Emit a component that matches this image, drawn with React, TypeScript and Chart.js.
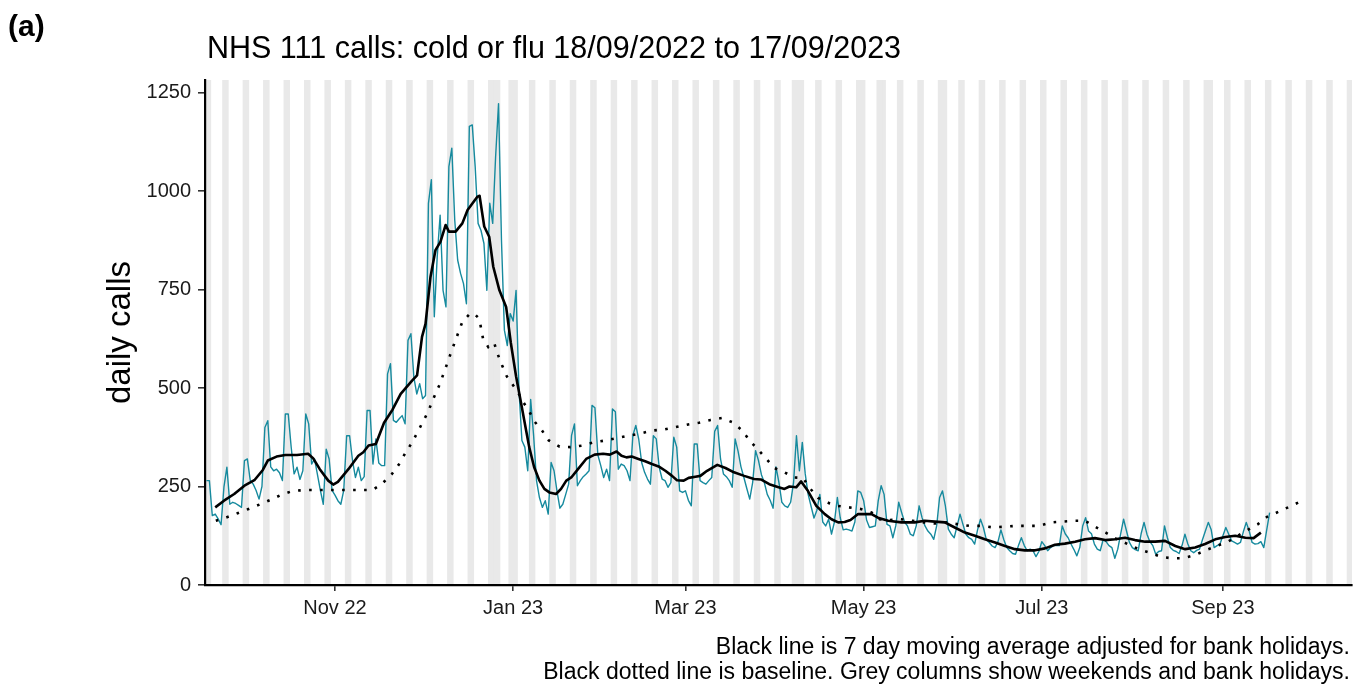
import React, { useEffect, useRef } from 'react';
import { Chart, registerables } from 'chart.js';

Chart.register(...registerables);

const FONT = "'Liberation Sans', Arial, Helvetica, sans-serif";

// Day 0 of every series is 18/09/2022
const START_DATE = '2022-09-18';
const DAY_MS = 86400000;
const dayOf = (s: string) =>
  Math.round((Date.parse(s + 'T00:00:00Z') - Date.parse(START_DATE + 'T00:00:00Z')) / DAY_MS);

const titleText = 'NHS 111 calls: cold or flu 18/09/2022 to 17/09/2023';
const panelLabel = '(a)';
const yAxisTitle = 'daily calls';
const captionLines = [
  'Black line is 7 day moving average adjusted for bank holidays.',
  'Black dotted line is baseline. Grey columns show weekends and bank holidays.',
];

const tickDates = ['2022-11-01', '2023-01-01', '2023-03-01', '2023-05-01', '2023-07-01', '2023-09-01'];
const tickLabels = ['Nov 22', 'Jan 23', 'Mar 23', 'May 23', 'Jul 23', 'Sep 23'];
const yTicks = [0, 250, 500, 750, 1000, 1250];

const bankHolidays = [
  '2022-09-19', '2022-12-26', '2022-12-27', '2023-01-02', '2023-04-07',
  '2023-04-10', '2023-05-01', '2023-05-08', '2023-05-29', '2023-08-28',
];
const greyColumnsEnd = '2023-10-15';

// daily calls, 18/09/2022 .. 17/09/2023
const dailyCalls = [
  265,
  265, 176, 180, 168, 153, 250, 299,
  205, 210, 207, 202, 197, 316, 320,
  265, 256, 240, 218, 250, 400, 417,
  300, 290, 294, 285, 265, 434, 434,
  350, 282, 299, 268, 290, 434, 409,
  307, 320, 280, 240, 205, 345, 320,
  240, 228, 214, 205, 240, 379, 379,
  316, 273, 299, 265, 275, 443, 443,
  307, 371, 310, 303, 303, 536, 562,
  418, 413, 422, 430, 409, 621, 638,
  528, 485, 511, 473, 481, 969, 1029,
  681, 833, 939, 748, 706, 1062, 1109,
  927, 825, 791, 765, 714, 1164, 1168,
  1062, 918, 900, 867, 748, 969, 918,
  1088, 1222, 876, 647, 608, 689, 670,
  748, 494, 367, 350, 290, 471, 380,
  265, 222, 197, 214, 180, 311, 290,
  239, 195, 205, 230, 256, 380, 409,
  252, 265, 275, 282, 290, 456, 450,
  330, 303, 273, 294, 265, 447, 440,
  294, 307, 303, 290, 265, 380, 405,
  370, 311, 286, 269, 256, 379, 371,
  299, 269, 265, 248, 260, 375, 350,
  239, 235, 239, 215, 201, 358, 358,
  265, 260, 256, 265, 273, 390, 405,
  320, 282, 275, 265, 248, 371, 340,
  300, 273, 245, 218, 260, 341, 316,
  280, 260, 230, 215, 195, 300, 260,
  210, 201, 197, 210, 260, 379, 290,
  362, 282, 230, 200, 170, 190, 230,
  160, 150, 167, 129, 160, 222, 170,
  140, 142, 140, 137, 160, 239, 235,
  214, 165, 146, 148, 150, 214, 252,
  230, 154, 150, 120, 150, 210, 184,
  160, 150, 129, 125, 150, 201, 171,
  150, 137, 129, 116, 150, 222, 239,
  200, 142, 129, 120, 150, 180, 154,
  129, 120, 116, 104, 140, 167, 146,
  115, 108, 99, 95, 110, 140, 115,
  95, 87, 80, 78, 100, 120, 100,
  87, 91, 87, 72, 85, 110, 100,
  87, 95, 100, 100, 100, 150, 130,
  120, 104, 90, 74, 95, 150, 171,
  137, 130, 104, 91, 87, 115, 110,
  100, 95, 68, 91, 130, 167, 137,
  108, 95, 90, 87, 130, 159, 129,
  110, 100, 78, 85, 87, 150, 120,
  95, 88, 85, 80, 100, 129, 104,
  87, 82, 88, 91, 115, 137, 159,
  140, 95, 100, 104, 125, 146, 129,
  112, 108, 104, 108, 135, 159, 137,
  108, 104, 105, 110, 95, 140, 184,
];

// 7 day moving average (day offset, value)
const avgDays = [
  3, 6, 9.5, 13, 16.4, 19.3, 21, 24, 27, 31, 34.8, 36.5, 38.8, 41.7, 43.4, 45, 48.6, 52, 53.7, 55.5,
  58, 60.8, 63.7, 66.5, 70.4, 72.1, 73.8, 75, 76.7, 78.4, 80.1, 81.9, 83, 85.3, 87.6, 89.4, 91.1, 92.8, 93.5, 95.1,
  96.8, 98.2, 100.3, 102.6, 104.2, 106, 107.5, 109, 110.5, 112.2, 114, 115.7, 117.4, 119.7, 121.4, 123.2, 124.9, 127.2, 130, 132.9,
  135.8, 138.1, 140.4, 142.1, 143.8, 145.6, 147.9, 150.2, 152.5, 154.8, 157.1, 159.4, 161.1, 163.4, 165.1, 167.4, 169.1, 171.4, 174.9, 177.7,
  180.6, 184.1, 187.5, 189.8, 192.7, 195.6, 197.9, 199.6, 201.9, 203.6, 205.9, 208.8, 211.7, 214, 216.3, 218.5, 220.5, 223.1, 227.7, 229.9,
  233.4, 237.9, 242.5, 245.9, 249.4, 252.8, 256.2, 259.7, 263.1, 266.5, 270, 273.4, 276.8, 280.2, 283.7, 287.1, 290.5, 293.9, 297.4, 300.8,
  304.2, 307.7, 311.1, 314.5, 317.9, 321.4, 324.8, 328.2, 331.7, 335.1, 338.5, 341.9, 345.4, 348.8, 352.2, 355.7, 358.5, 361,
];
const avgValues = [
  197, 214, 231, 252, 266, 292, 316, 326, 330, 330, 333, 322, 294, 265, 255, 262, 294, 328, 337, 354,
  358, 412, 445, 485, 519, 532, 630, 663, 782, 850, 871, 914, 897, 897, 918, 952, 969, 986, 988, 910,
  884, 808, 748, 706, 615, 530, 470, 410, 350, 299, 265, 244, 235, 231, 244, 265, 273, 294, 320, 331,
  333, 331, 339, 328, 324, 326, 320, 314, 307, 301, 290, 277, 266, 265, 272, 275, 277, 290, 305, 297,
  286, 277, 269, 268, 256, 249, 244, 250, 248, 263, 239, 201, 180, 167, 159, 160, 165, 180, 180, 171,
  163, 159, 159, 163, 161, 159, 146, 133, 125, 116, 108, 99, 91, 88, 88, 93, 102, 105, 110, 116,
  119, 114, 116, 120, 114, 110, 110, 112, 99, 91, 95, 104, 116, 122, 125, 120, 119, 133,
];

// baseline (day offset, value)
const baselineDays = [
  3.2, 6.6, 10.6, 14.4, 18.1, 21.9, 25.6, 29.6, 33.6, 45, 56.8, 60, 63.5, 65.8, 68.1, 70.4, 72.4, 73.8, 75.9, 77.5,
  79.6, 81.6, 83, 84.7, 86.2, 87.6, 90.1, 91.5, 93.4, 94.7, 96.5, 98.5, 99.5, 101.2, 102.8, 104.6, 106.6, 108.3, 110.5, 112.2,
  114.9, 117.2, 120.9, 124.6, 128.7, 132.6, 136.7, 140.6, 144.6, 148.7, 152.7, 156.7, 160.7, 164.5, 168.6, 172.6, 176.4, 180.1, 183.5, 185.9,
  188.7, 191.7, 194.4, 197.9, 201.3, 204.2, 206.8, 209.4, 213.4, 216, 220, 224, 227.7, 230.5, 233.7, 237.7, 241.7, 245.6, 249.4, 253.4,
  257.4, 261.4, 265.4, 269.4, 273.1, 277.1, 281.1, 285.1, 289.1, 293.1, 297.1, 300.8, 304.2, 307.9, 311.7, 315.4, 319.1, 323.1, 326.9, 330.5,
  334.5, 338.5, 342.3, 345.9, 349.7, 353.1, 356.2, 359.9, 363.1, 366.5, 370.3, 374,
];
const baselineValues = [
  163, 171, 182, 193, 204, 216, 229, 239, 241, 241, 241, 256, 282, 305, 335, 362, 390, 410, 440, 470,
  505, 545, 575, 610, 640, 668, 688, 690, 676, 625, 604, 615, 590, 558, 530, 511, 490, 466, 441, 416,
  392, 367, 351, 350, 354, 362, 367, 373, 379, 385, 392, 395, 401, 407, 412, 419, 424, 413, 392, 367,
  345, 320, 297, 286, 273, 272, 244, 221, 207, 201, 197, 193, 184, 167, 165, 167, 163, 159, 156, 159,
  154, 150, 150, 146, 148, 150, 150, 150, 159, 161, 163, 163, 148, 133, 116, 104, 91, 82, 71, 68,
  68, 76, 89, 99, 110, 125, 139, 154, 173, 184, 197, 210,
];

const X_MIN = -0.5;
const X_MAX = 392.2;
const Y_MAX = 1282;

function buildGreyDays(): number[] {
  const hol = new Set(bankHolidays.map(dayOf));
  const end = dayOf(greyColumnsEnd);
  const startMs = Date.parse(START_DATE + 'T00:00:00Z');
  const out: number[] = [];
  for (let d = 0; d <= end; d++) {
    const wd = new Date(startMs + d * DAY_MS).getUTCDay();
    if (wd === 0 || wd === 6 || hol.has(d)) out.push(d);
  }
  return out;
}

const textPlugin = {
  id: 'annotationTexts',
  afterDraw(chart: any) {
    const ctx = chart.ctx as CanvasRenderingContext2D;
    ctx.save();
    ctx.fillStyle = '#000';
    ctx.textBaseline = 'alphabetic';
    ctx.textAlign = 'left';
    ctx.font = `bold 30px ${FONT}`;
    ctx.fillText(panelLabel, 8, 36);
    ctx.font = `30.5px ${FONT}`;
    ctx.fillText(titleText, 207, 58);
    ctx.font = `23px ${FONT}`;
    ctx.textAlign = 'right';
    ctx.fillText(captionLines[0], 1350, 654);
    ctx.fillText(captionLines[1], 1350, 679);
    const area = chart.chartArea;
    ctx.translate(121, (area.top + area.bottom) / 2);
    ctx.rotate(-Math.PI / 2);
    ctx.textAlign = 'center';
    ctx.textBaseline = 'middle';
    ctx.font = `33px ${FONT}`;
    ctx.fillText(yAxisTitle, 0, 0);
    ctx.restore();
  },
};

export default function App() {
  const ref = useRef<HTMLCanvasElement>(null);

  useEffect(() => {
    const canvas = ref.current;
    if (!canvas) return;
    const greyDays = buildGreyDays();
    const tickDays = tickDates.map(dayOf);

    const chart = new Chart(canvas, {
      type: 'line',
      data: {
        datasets: [
          {
            type: 'bar',
            data: greyDays.map((d) => ({ x: d, y: Y_MAX })),
            backgroundColor: '#e9e9e9',
            borderWidth: 0,
            barPercentage: 1,
            categoryPercentage: 1,
            order: 10,
          } as any,
          {
            type: 'line',
            data: dailyCalls.map((v, i) => ({ x: i, y: v })),
            borderColor: '#168a9e',
            borderWidth: 1.4,
            pointRadius: 0,
            tension: 0,
            borderJoinStyle: 'round',
            order: 3,
          },
          {
            type: 'line',
            data: baselineDays.map((d, i) => ({ x: d, y: baselineValues[i] })),
            borderColor: '#000',
            borderWidth: 2.6,
            borderDash: [2.6, 8.4],
            pointRadius: 0,
            tension: 0,
            order: 2,
          },
          {
            type: 'line',
            data: avgDays.map((d, i) => ({ x: d, y: avgValues[i] })),
            borderColor: '#000',
            borderWidth: 2.6,
            pointRadius: 0,
            tension: 0,
            borderJoinStyle: 'round',
            order: 1,
          },
        ],
      },
      options: {
        animation: false,
        responsive: false,
        maintainAspectRatio: false,
        layout: { padding: { top: 80, right: 5, left: 0, bottom: 0 } },
        plugins: {
          legend: { display: false },
          tooltip: { enabled: false },
          title: { display: false },
        },
        scales: {
          x: {
            type: 'linear',
            min: X_MIN,
            max: X_MAX,
            offset: false,
            afterFit: (s: any) => {
              s.height = 100;
            },
            afterBuildTicks: (s: any) => {
              s.ticks = tickDays.map((v) => ({ value: v }));
            },
            ticks: {
              callback: (_v: any, i: number) => tickLabels[i],
              font: { family: FONT, size: 20 },
              color: '#1a1a1a',
              padding: 5,
              maxRotation: 0,
              minRotation: 0,
              autoSkip: false,
            },
            grid: {
              display: true,
              offset: false,
              drawOnChartArea: false,
              drawTicks: true,
              tickLength: 6,
              color: '#333',
              tickColor: '#333',
              lineWidth: 1.6,
            },
            border: { display: true, color: '#000', width: 2.2, z: 1 },
          },
          y: {
            type: 'linear',
            min: 0,
            max: Y_MAX,
            afterFit: (s: any) => {
              s.width = 205;
            },
            afterBuildTicks: (s: any) => {
              s.ticks = yTicks.map((v) => ({ value: v }));
            },
            ticks: {
              callback: (v: any) => String(v),
              font: { family: FONT, size: 20 },
              color: '#1a1a1a',
              padding: 7,
            },
            grid: {
              display: true,
              drawOnChartArea: false,
              drawTicks: true,
              tickLength: 7,
              color: '#333',
              tickColor: '#333',
              lineWidth: 1.6,
            },
            border: { display: true, color: '#000', width: 2.2, z: 1 },
          },
        },
      },
      plugins: [textPlugin],
    } as any);

    return () => chart.destroy();
  }, []);

  return (
    <div style={{ position: 'fixed', left: 0, top: 0, width: 1357, height: 685, background: '#fff' }}>
      <canvas ref={ref} width={1357} height={685} style={{ display: 'block', width: 1357, height: 685 }} />
    </div>
  );
}
